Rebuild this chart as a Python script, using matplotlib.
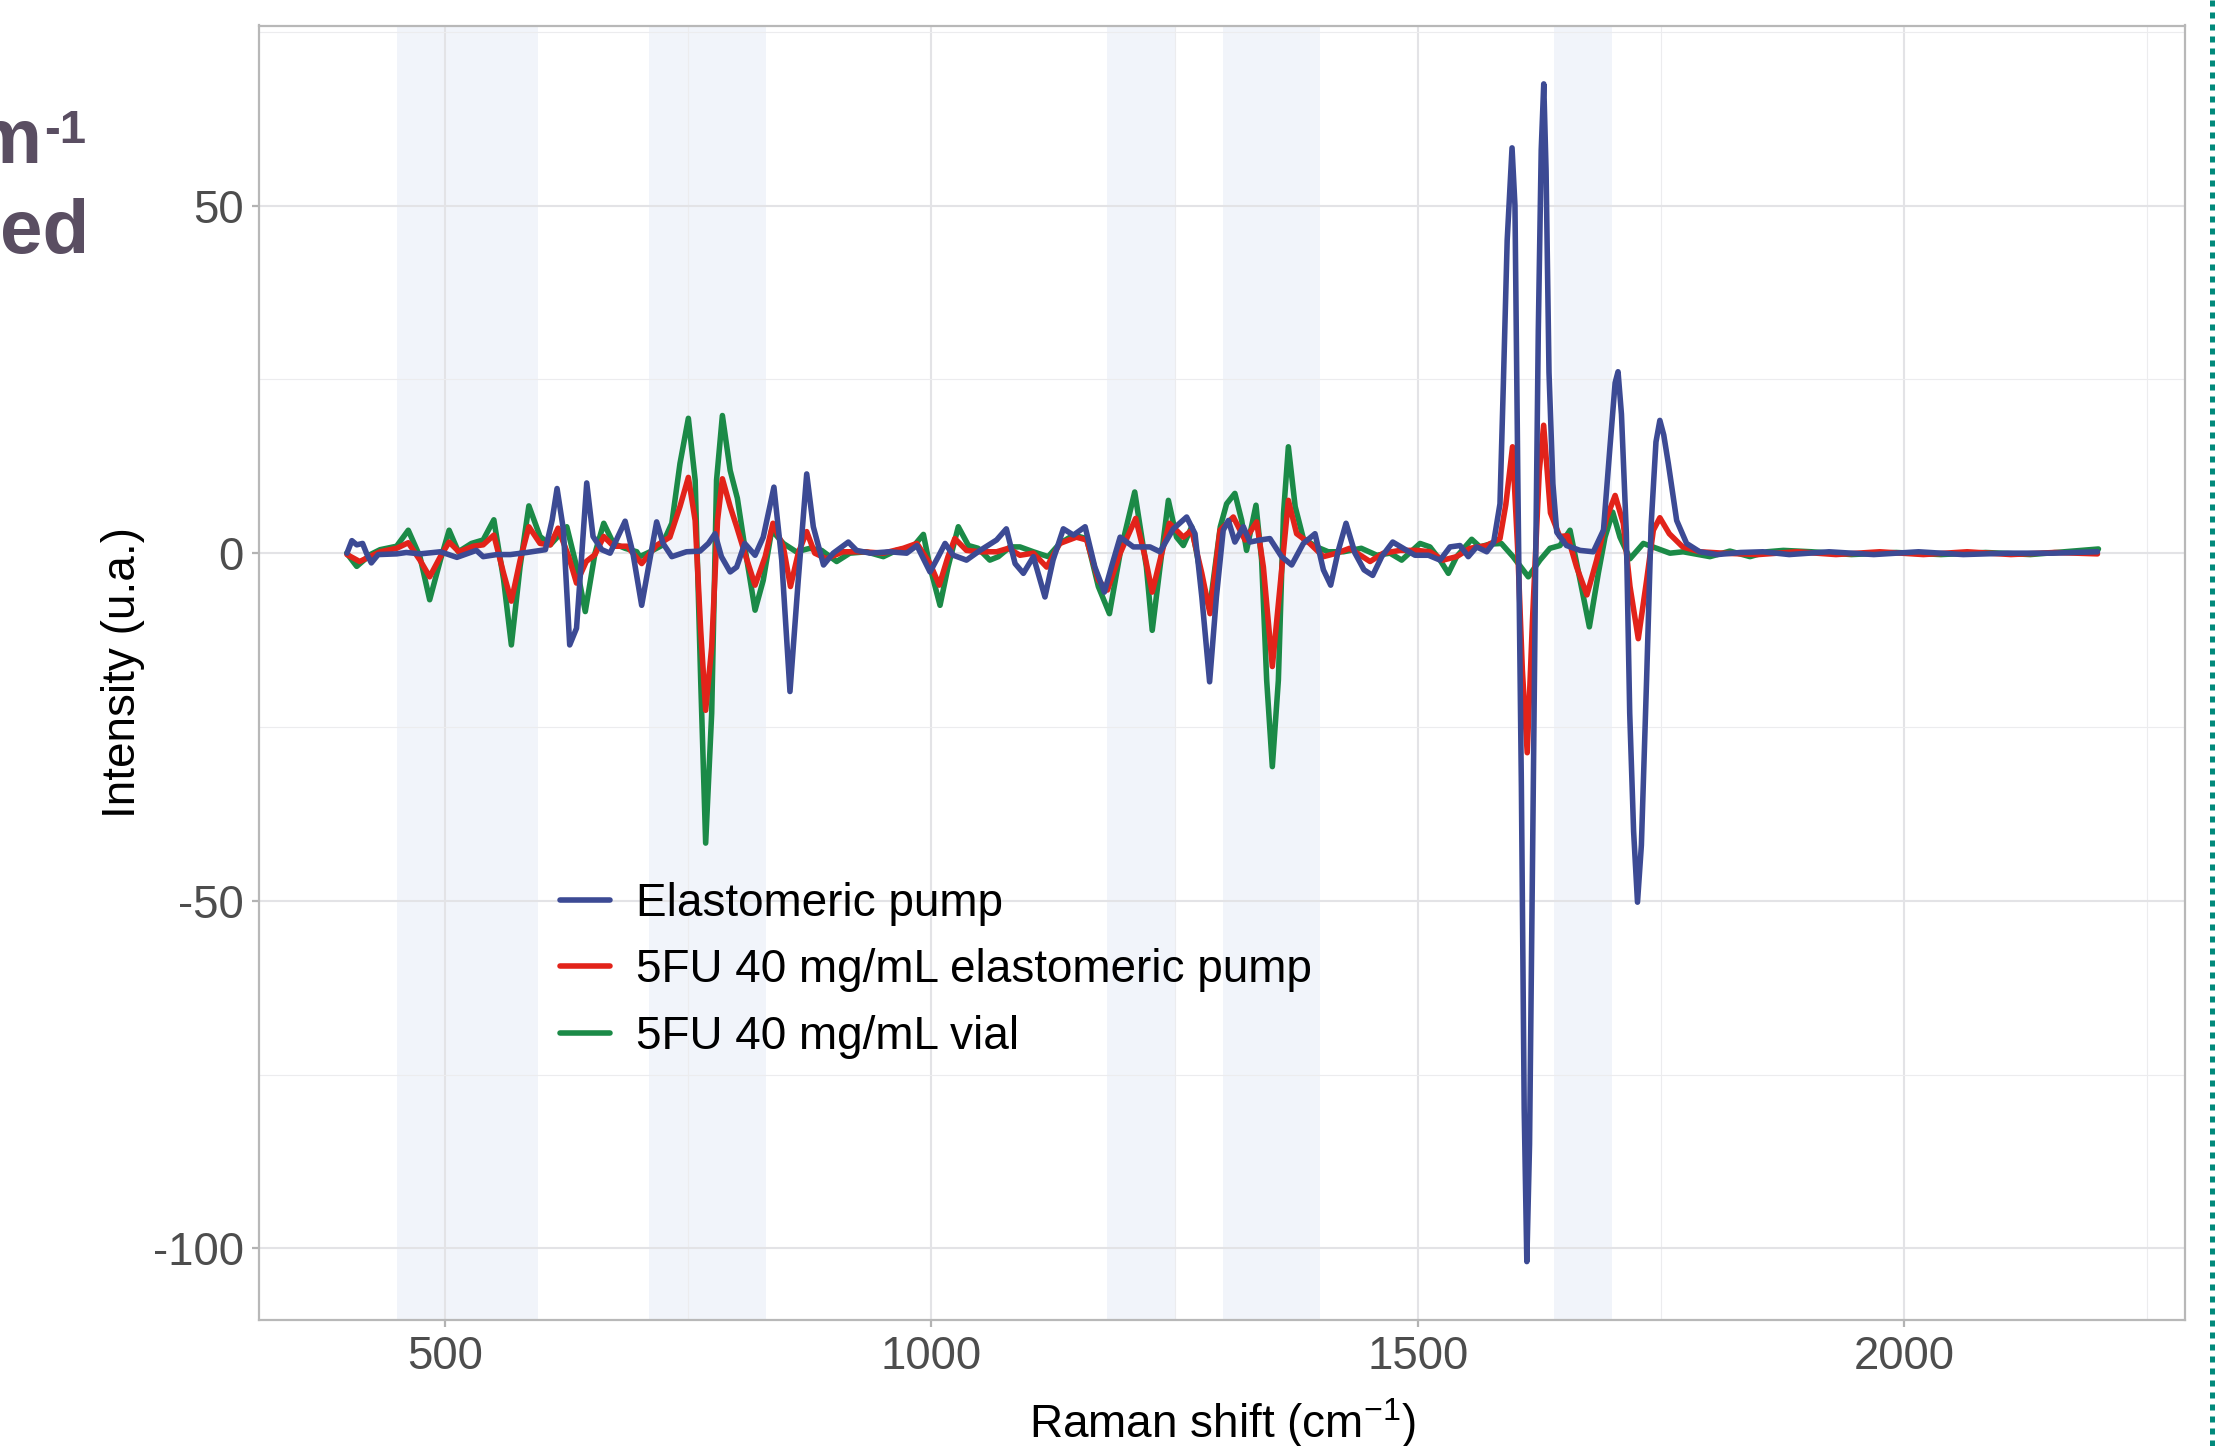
import numpy as np
import matplotlib
matplotlib.use("Agg")
import matplotlib.pyplot as plt
from matplotlib.ticker import MultipleLocator
from matplotlib.lines import Line2D

plt.rcParams['font.family'] = ['Liberation Sans', 'DejaVu Sans']
plt.rcParams['mathtext.fontset'] = 'custom'
plt.rcParams['mathtext.rm'] = 'Liberation Sans'
plt.rcParams['mathtext.it'] = 'Liberation Sans:italic'
plt.rcParams['mathtext.bf'] = 'Liberation Sans:bold'
plt.rcParams['axes.unicode_minus'] = False

# ---- data ----
labels = ["Elastomeric pump", "5FU 40 mg/mL elastomeric pump", "5FU 40 mg/mL vial"]

blue_x = [399, 404, 409, 415, 419, 424, 431, 450, 460, 474, 495, 512, 532, 539, 553, 567, 584,
          603, 610, 615, 621.5, 628, 635, 640, 645.5, 652, 661, 669.5, 676, 685, 693, 702, 709,
          717.4, 724, 733, 748, 762, 770.6, 777.4, 784, 793, 799.7, 808, 818.6, 827, 838, 846,
          854.5, 863, 871.7, 878.5, 889, 899, 914.5, 923, 937, 957, 974.5, 985, 998.5, 1007,
          1014, 1022.5, 1036, 1050, 1067, 1077, 1086, 1094.5, 1104.8, 1116.7, 1125, 1135.6,
          1146, 1158, 1168, 1177.8, 1185, 1194, 1207.6, 1224.7, 1235, 1248.7, 1262.4, 1271,
          1278, 1286, 1293, 1300, 1305.3, 1312, 1320.7, 1327.5, 1338, 1348, 1360, 1370.4,
          1382.4, 1394.4, 1403, 1410.5, 1418.4, 1426.3, 1435.5, 1444.8, 1453.7, 1463, 1474.3,
          1485.2, 1497.2, 1511, 1523, 1533.2, 1543.5, 1552, 1560.6, 1571, 1578, 1584.6, 1588,
          1592, 1597, 1600, 1603, 1606.6, 1609.5, 1612.2, 1615, 1618, 1621, 1624, 1627, 1629.6,
          1632, 1635, 1639, 1643, 1653, 1667, 1680.6, 1691, 1697.7, 1703, 1706, 1709.5, 1714.5,
          1718, 1722, 1726, 1730, 1735.4, 1740, 1745, 1749, 1753, 1757.7, 1766.3, 1776.5, 1790,
          1808, 1832, 1855, 1882, 1923, 1969, 2015, 2061, 2107, 2153, 2199]
blue_y = [0, 1.8, 1.2, 1.4, 0, -1.4, -0.2, -0.1, 0.1, -0.1, 0.2, -0.6, 0.4, -0.5, -0.2, -0.2, 0.1,
          0.5, 4.8, 9.3, 3.4, -13.2, -10.8, -1, 10.1, 2.4, 0.5, 0, 1.9, 4.6, 0, -7.5, -2,
          4.5, 1.4, -0.5, 0.2, 0.3, 1.4, 2.8, -0.5, -2.7, -2, 1.4, -0.3, 2.3, 9.5, -1,
          -19.9, -3.9, 11.4, 3.8, -1.7, 0, 1.6, 0.4, 0, 0.2, 0, 1.1, -2.7, -0.5,
          1.4, -0.3, -1, 0.4, 1.9, 3.5, -1.5, -2.9, -0.5, -6.3, -1, 3.5,
          2.6, 3.8, -2, -5.6, -2, 2.3, 0.9, 0.9, 0.2, 3.5, 5.2, 2.8,
          -6.3, -18.5, -6.3, 3.3, 4.7, 1.6, 3.8, 1.6, 1.9, 2.1, -0.5, -1.7,
          1.4, 2.8, -2.4, -4.6, 0.4, 4.3, 0, -2.4, -3.2, -0.5, 1.6,
          0.7, -0.3, -0.3, -1, 0.9, 1.1, -0.5, 0.9, 0.2, 1.5, 7.1, 24,
          45, 58.3, 50, 10, -33.5, -80, -101.9, -85, -45, -5, 32, 58, 67.5,
          55, 26, 10, 3, 1.1, 0.4, 0.2, 3.3, 15.3, 24.5, 26.1, 20, 3,
          -23, -40, -50.2, -42, -18, 4, 16, 19.1, 17, 12.9, 4.7, 1.4, 0.2,
          -0.2, 0.1, 0.2, -0.2, 0.2, -0.2, 0.2, -0.2, 0, 0, 0.2]

red_x = [399, 412, 433, 450, 462, 474, 484, 495, 504, 514, 529, 539, 550, 560, 568, 577, 586,
         597.5, 608, 616, 627, 635, 645, 654, 663, 673, 687, 702, 717, 731, 741.4, 750, 757,
         762.7, 767.8, 774, 780, 785, 793, 799.7, 808, 818.6, 829, 837, 847.7, 855, 863, 871.7,
         880, 892, 909, 930, 950.5, 971, 985, 998.5, 1008, 1017, 1024, 1036, 1050, 1067, 1079,
         1091, 1104.8, 1118.5, 1132, 1149, 1159.6, 1171.6, 1181, 1194, 1210, 1219.6, 1227,
         1235, 1244.6, 1259, 1267.6, 1278, 1286.4, 1296.7, 1310.4, 1322.4, 1334.4, 1341.3,
         1350.5, 1358.4, 1367, 1375.5, 1389, 1403, 1416.7, 1430, 1451, 1464.7, 1482, 1499,
         1512.6, 1526, 1540, 1553.7, 1571, 1584.6, 1590.6, 1597.5, 1603, 1607.6, 1612.6, 1618,
         1625, 1629.5, 1636.5, 1646, 1654, 1663.4, 1674, 1684, 1694, 1703, 1711.4, 1718.3,
         1726.8, 1735.4, 1742.3, 1749, 1758.7, 1772.5, 1790, 1814, 1850, 1890, 1930, 1975,
         2020, 2065, 2110, 2155, 2199]
red_y = [-0.2, -1.2, 0.2, 0.7, 1.5, -1, -3.4, -0.5, 1.6, 0.2, 1, 1.2, 2.6, -2.9, -6.9, -1, 3.8,
         1.4, 1.2, 3.6, -0.5, -4.3, -1.2, -0.2, 2.4, 1, 1, -1.5, 1.1, 2.3, 6.7, 10.9, 4.7,
         -11.1, -22.6, -13.5, 4.7, 10.7, 6.7, 3.8, 0, -4.6, -0.5, 4.3, 0.9, -4.8, 0, 3.1,
         0, -0.8, 0.2, 0.2, 0, 0.7, 1.4, -1.5, -4.6, -0.5, 2.1, 0.4, 0.2, 0.2, 0.7,
         -0.3, 0, -2, 1.4, 2.3, 1.9, -3.9, -5.3, 0, 5, -0.5, -5.6,
         -1, 4.3, 2.3, 3.3, -2.9, -8.7, 3.3, 5.2, 1.9, 4.5, -2,
         -16.3, -4.8, 7.6, 2.8, 1.4, -0.5, 0, 0.7, -1.2, 0, 0.4, 0.4,
         0.2, -1, -0.5, 0.7, 1.1, 2.1, 7, 15.3, 0, -16.8, -28.7, -9.7,
         11.8, 18.4, 5.8, 2.4, 2.5, -2, -6, -1, 5, 8.3, 4.3, -4.8,
         -12.3, -3.9, 3.3, 5.1, 2.8, 0.9, 0.2, 0, -0.2, 0.2, -0.2, 0.2,
         -0.2, 0.2, -0.2, 0.1, -0.1]

green_x = [398.7, 409, 423, 433, 450, 462, 474, 484, 495, 504, 513.5, 527, 539, 550, 560, 568,
           577, 586, 597.5, 608, 625, 635, 644, 654, 663, 673, 685, 697, 700, 710.6, 722.6, 733,
           741.4, 750, 757, 762.7, 767.8, 774, 779, 785, 793, 800.4, 808, 818.6, 827, 835.7,
           847.7, 861, 875, 887, 902.5, 916, 933, 950.5, 964, 981, 991.7, 998.5, 1008.8, 1017,
           1027.6, 1038, 1048, 1060, 1068.8, 1080.8, 1091, 1104.8, 1120, 1132, 1146, 1159.6,
           1171.6, 1183, 1194, 1209, 1221, 1227, 1235, 1243.6, 1252, 1259, 1267.6, 1278, 1286,
           1297, 1303.5, 1312, 1319, 1324, 1333.7, 1339.5, 1344.7, 1350.5, 1356.7, 1362, 1367,
           1374, 1382.4, 1396, 1408, 1423.5, 1442, 1458, 1471.5, 1483.5, 1502.4, 1512.6, 1523,
           1531.5, 1540, 1555.5, 1564, 1574, 1586, 1598, 1613.7, 1625.7, 1636, 1646.3, 1656.6,
           1667, 1676.5, 1685.7, 1692.6, 1700.5, 1708, 1718.3, 1732, 1745.7, 1759.4, 1773,
           1800.5, 1821, 1841.7, 1859, 1876, 1905, 1946, 1992, 2038, 2084, 2130, 2200]
green_y = [0, -1.9, -0.2, 0.5, 1, 3.3, -0.5, -6.7, -1, 3.3, 0.2, 1.4, 1.9, 4.8, -3.8, -13.2,
           -1.9, 6.8, 2.4, 1.2, 3.8, -1.9, -8.4, 0, 4.3, 1.4, 0.7, 0.2, -0.5, 0.2, 1.1, 4.3,
           12.9, 19.4, 10.5, -18.3, -41.7, -23, 10.5, 19.8, 11.9, 7.9, 0.9, -8.2, -3.9, 3.3,
           1.4, 0.2, 0.7, 0.4, -1.2, 0, 0.2, -0.5, 0.4, 0.9, 2.7, -2, -7.5, -2,
           3.8, 1.1, 0.7, -1, -0.5, 0.9, 0.9, 0.2, -0.5, 1.4, 2.6, 2.1,
           -4.8, -8.7, 0, 8.8, -2, -11.1, -2, 7.6, 2.3, 1.1, 3.8, -3.9, -8,
           3.8, 7.1, 8.6, 4.7, 0.4, 6.9, -1, -18.3, -30.7, -18.3, 5.7, 15.3,
           6.7, 2.1, 0.9, 0.2, 0.2, 0.7, -0.3, 0, -1, 1.4, 0.9, -1,
           -2.9, -0.5, 2, 0.9, 1.3, 1.4, -0.5, -3.4, -1, 0.7, 1.1, 3.3,
           -3.9, -10.6, -2.9, 2.3, 5.9, 2.3, -0.8, 1.4, 0.7, 0, 0.2,
           -0.5, 0.3, -0.5, 0.2, 0.4, 0.2, -0.2, 0.1, -0.2, 0.1, -0.2, 0.6]

bands = [(450, 595), (710, 830), (1180, 1250), (1300, 1400), (1640, 1700)]

# ---- figure ----
W, H, DPI = 2223, 1446, 200
fig = plt.figure(figsize=(W / DPI, H / DPI), dpi=DPI)
ax = fig.add_axes([259 / W, 126 / H, 1926 / W, 1294.5 / H])

for lo, hi in bands:
    ax.axvspan(lo, hi, color='#F1F4FA', lw=0, zorder=0)

kw = dict(lw=2.0, solid_joinstyle='round', solid_capstyle='round')
ax.plot(green_x, green_y, color='#1B8A47', label=labels[2], zorder=3, **kw)
ax.plot(red_x, red_y, color='#E2231A', label=labels[1], zorder=4, **kw)
ax.plot(blue_x, blue_y, color='#3C4A94', label=labels[0], zorder=5, **kw)

ax.set_xlim(308.5, 2289)
ax.set_ylim(-110.3, 75.9)
ax.xaxis.set_major_locator(MultipleLocator(500))
ax.xaxis.set_minor_locator(MultipleLocator(250))
ax.yaxis.set_major_locator(MultipleLocator(50))
ax.yaxis.set_minor_locator(MultipleLocator(25))
ax.set_axisbelow(True)
ax.grid(which='major', color='#E3E3E6', lw=0.75)
ax.grid(which='minor', color='#ECECEE', lw=0.4)
ax.tick_params(which='minor', length=0)
ax.tick_params(which='major', length=2.5, width=0.8, color='#B3B3B3',
               labelcolor='#4D4D4D', labelsize=16.4, pad=3)
for s in ax.spines.values():
    s.set_color('#B8B8B8')
    s.set_linewidth(0.8)

ax.set_xlabel('Raman shift (cm$^{-1}$)', fontsize=16.5, color='black', labelpad=6)
ax.set_ylabel('Intensity (u.a.)', fontsize=16.5, color='black')
ax.yaxis.set_label_coords(-0.059, 0.5)

h, l = ax.get_legend_handles_labels()
order = [2, 1, 0]
ax.legend([h[i] for i in order], [l[i] for i in order], loc='center left',
          bbox_to_anchor=(0.1444, 0.270), frameon=False, fontsize=16.5,
          handlelength=1.1, handletextpad=0.55, labelspacing=0.5, borderpad=0)

# neighbouring panel text cut off at the left edge
purple = '#5A4E62'
fig.text(-27 / W, 1 - 163 / H, 'm', fontsize=28, fontweight='bold', color=purple, va='baseline')
fig.text(44 / W, 1 - 143 / H, '-1', fontsize=17, fontweight='bold', color=purple, va='baseline')
fig.text(0 / W, 1 - 253 / H, 'ed', fontsize=27.5, fontweight='bold', color=purple, va='baseline')

# dotted separator at the right edge
fig.add_artist(Line2D([2212 / W, 2212 / W], [0, 1], color='#00897B', lw=1.8,
                      linestyle=(0, (1.2, 1.2)), transform=fig.transFigure))

fig.savefig('out.png', dpi=DPI)
